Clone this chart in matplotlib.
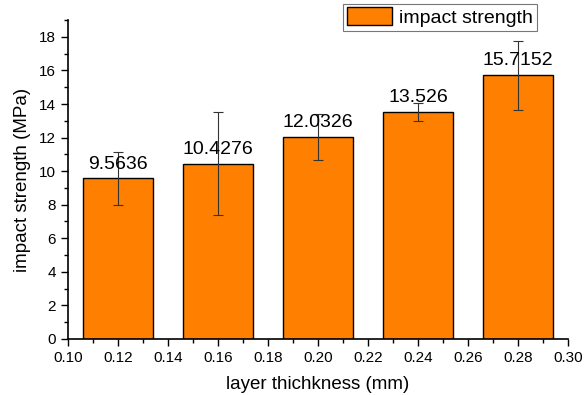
import matplotlib
matplotlib.use("Agg")
import matplotlib.pyplot as plt
from matplotlib.ticker import MultipleLocator

plt.rcParams['font.family'] = ['Liberation Sans', 'DejaVu Sans']

thickness = [0.12, 0.16, 0.20, 0.24, 0.28]
strength = [9.5636, 10.4276, 12.0326, 13.526, 15.7152]
errors = [1.6, 3.07, 1.37, 0.55, 2.05]
labels = ['9.5636', '10.4276', '12.0326', '13.526', '15.7152']

fig = plt.figure(figsize=(5.85, 3.95), dpi=100)
ax = fig.add_axes([0.116, 0.142, 0.855, 0.807])

bars = ax.bar(thickness, strength, width=0.028, color='#FF8000', edgecolor='black',
              linewidth=1.0, label='impact strength', zorder=2)
ax.errorbar(thickness, strength, yerr=errors, fmt='none', ecolor='#333333',
            elinewidth=0.8, capsize=3.6, capthick=0.8, zorder=3)

for x, y, t in zip(thickness, strength, labels):
    ax.text(x, y + 0.35, t, ha='center', va='bottom', fontsize=14, zorder=4)

ax.set_xlim(0.10, 0.30)
ax.set_ylim(0, 19)
ax.xaxis.set_major_locator(MultipleLocator(0.02))
ax.xaxis.set_minor_locator(MultipleLocator(0.01))
ax.yaxis.set_major_locator(MultipleLocator(2))
ax.yaxis.set_minor_locator(MultipleLocator(1))
ax.set_xticklabels([f'{v:.2f}' for v in ax.get_xticks()])
ax.tick_params(which='major', direction='out', length=5, width=1, labelsize=11)
ax.tick_params(which='minor', direction='out', length=3, width=1)

ax.spines['top'].set_visible(False)
ax.spines['right'].set_visible(False)
ax.spines['left'].set_linewidth(1.2)
ax.spines['bottom'].set_linewidth(1.2)

ax.set_xlabel('layer thichkness (mm)', fontsize=13.5, labelpad=8)
ax.set_ylabel('impact strength (MPa)', fontsize=13.5, labelpad=6)

leg = ax.legend(loc='upper left', bbox_to_anchor=(0.55, 1.052), fontsize=14,
                frameon=True, fancybox=False, edgecolor='#555555',
                handlelength=2.3, handleheight=1.0, borderpad=0.2, handletextpad=0.4,
                borderaxespad=0)
leg.get_frame().set_linewidth(0.8)

fig.savefig('out.png', dpi=100)
